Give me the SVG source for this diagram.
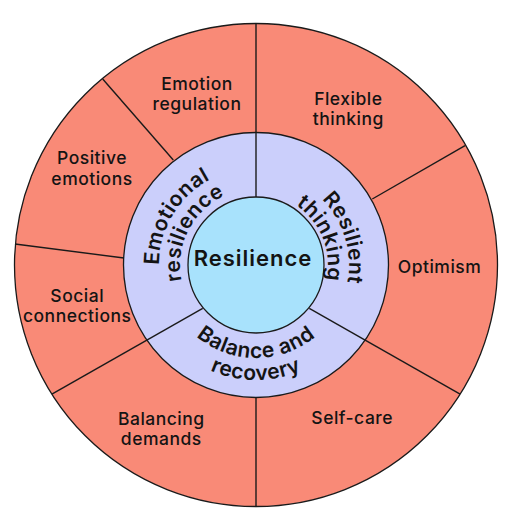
<svg xmlns="http://www.w3.org/2000/svg" width="512" height="524" viewBox="0 0 512 524">
<style>
.outer{fill:#F98A77;stroke:#1a1a1a;stroke-width:1.3}
.mid{fill:#CBCFFB;stroke:#1a1a1a;stroke-width:1.3}
.core{fill:#A8E2FC;stroke:#1a1a1a;stroke-width:1.3}
.div{stroke:#1a1a1a;stroke-width:1.4;fill:none}
.lbl{font-family:Inter,"Open Sans",sans-serif;font-weight:500;font-size:17.5px;letter-spacing:0.5px;fill:#141414;text-anchor:middle}
.ring{font-family:Inter,"Open Sans",sans-serif;font-weight:600;font-size:21px;letter-spacing:0.5px;fill:#141414;text-anchor:middle}
.ctr{font-family:Inter,"Open Sans",sans-serif;font-weight:600;font-size:22px;letter-spacing:1px;fill:#141414;text-anchor:middle}
</style>
<defs>
<path id="pEmo" d="M192.35,338.21 A97,97 0 0,1 290.76,174.44"/>
<path id="pRes" d="M210.26,325.69 A76,76 0 0,1 278.22,192.32"/>
<path id="pResil" d="M244.67,172.70 A93,93 0 0,1 298.22,347.87"/>
<path id="pThink" d="M241.03,194.58 A72,72 0 0,1 294.15,326.06"/>
<path id="pBal" d="M164.41,281.15 A93,93 0 0,0 347.59,281.15"/>
<path id="pRec" d="M142.75,284.97 A115,115 0 0,0 369.25,284.97"/>
</defs>
<g id="outer-ring"><circle class="outer" cx="256" cy="265" r="241.5"/></g>
<g id="middle-ring"><circle class="mid" cx="256" cy="265" r="132.5"/></g>
<g id="core"><circle class="core" cx="256" cy="265" r="68"/></g>
<g id="connectors">
<line class="div" x1="256" y1="197" x2="256" y2="23.5"/>
<line class="div" x1="202.7" y1="308.3" x2="51.9" y2="394.2"/>
<line class="div" x1="309.3" y1="308.3" x2="460.1" y2="394.2"/>
<line class="div" x1="173.3" y1="160" x2="102.7" y2="79"/>
<line class="div" x1="15" y1="244" x2="124" y2="258"/>
<line class="div" x1="256" y1="397.5" x2="256" y2="506.5"/>
<line class="div" x1="372.3" y1="199" x2="465" y2="145.7"/>
</g>
<g id="node-resilience"><text class="ctr" x="253" y="266">Resilience</text></g>
<g id="node-emotional-resilience">
<text class="ring"><textPath href="#pEmo" startOffset="50%">Emotional</textPath></text>
<text class="ring"><textPath href="#pRes" startOffset="50%">resilience</textPath></text>
</g>
<g id="node-resilient-thinking">
<text class="ring"><textPath href="#pResil" startOffset="50%">Resilient</textPath></text>
<text class="ring"><textPath href="#pThink" startOffset="50%">thinking</textPath></text>
</g>
<g id="node-balance-recovery">
<text class="ring"><textPath href="#pBal" startOffset="50%">Balance and</textPath></text>
<text class="ring"><textPath href="#pRec" startOffset="50%">recovery</textPath></text>
</g>
<g id="node-emotion-regulation"><text class="lbl" x="197" y="89.5">Emotion</text><text class="lbl" x="197" y="110">regulation</text></g>
<g id="node-flexible-thinking"><text class="lbl" x="348.3" y="105.3">Flexible</text><text class="lbl" x="348.3" y="125">thinking</text></g>
<g id="node-positive-emotions"><text class="lbl" x="92" y="164.3">Positive</text><text class="lbl" x="92" y="185">emotions</text></g>
<g id="node-social-connections"><text class="lbl" x="77.2" y="302">Social</text><text class="lbl" x="77.2" y="322">connections</text></g>
<g id="node-optimism"><text class="lbl" x="439.5" y="273">Optimism</text></g>
<g id="node-balancing-demands"><text class="lbl" x="161.3" y="425.3">Balancing</text><text class="lbl" x="161.3" y="444.7">demands</text></g>
<g id="node-self-care"><text class="lbl" x="352.2" y="424.3">Self-care</text></g>
</svg>
